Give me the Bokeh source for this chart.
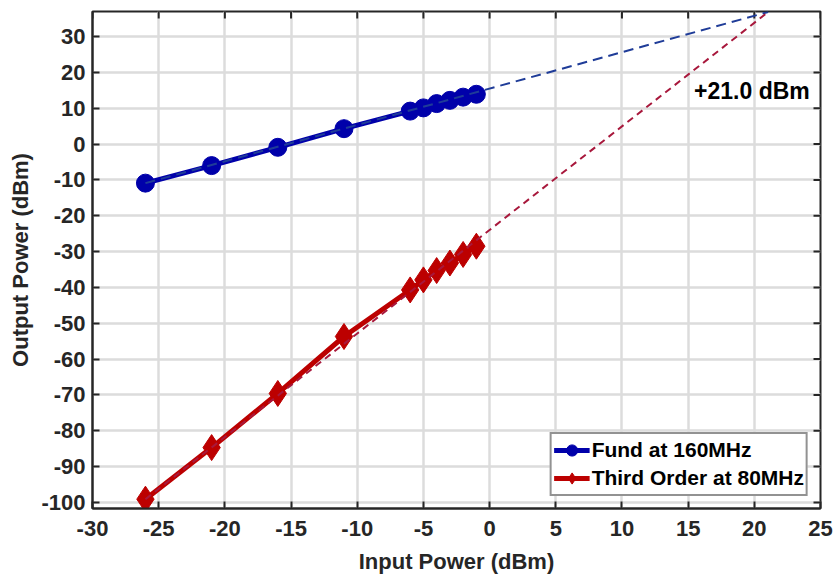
from bokeh.plotting import figure
from bokeh.models import Range1d, FixedTicker, Legend, LegendItem, ColumnDataSource
from bokeh.core.properties import value
from bokeh.embed import file_html
from bokeh.resources import INLINE
import numpy as np

# ---- data ----
input_power = [-26, -21, -16, -11, -6, -5, -4, -3, -2, -1]
fund_out = [-10.9, -6.0, -0.9, 4.3, 9.2, 10.1, 11.3, 12.2, 13.1, 13.9]
im3_out = [-99.1, -84.7, -69.6, -53.7, -40.7, -37.9, -35.3, -33.2, -30.8, -28.5]

# linear extrapolations (slope, offset at 0 dBm input)
fund_fit = (1.015, 15.49)
im3_fit = (2.89, -23.96)

x_ticks = list(range(-30, 26, 5))
y_ticks = list(range(-100, 31, 10))

fund_label = "Fund at 160MHz"
im3_label = "Third Order at 80MHz"

# intercept point
iip3 = (im3_fit[1] - fund_fit[1]) / (fund_fit[0] - im3_fit[0])
ext_x = np.array([input_power[0], iip3])
fund_ext = fund_fit[0] * ext_x + fund_fit[1]
im3_ext = im3_fit[0] * ext_x + im3_fit[1]

FONT = "Liberation Sans"
DARK = "#262626"
BLUE = "#0000AA"
RED = "#BC0000"
BLUE_D = "#1F3C98"
RED_D = "#A8183C"

x_range = Range1d(-30, 25)
y_range = Range1d(-101.7, 37)

p = figure(width=835, height=580, output_backend="svg", toolbar_location=None,
           x_range=x_range, y_range=y_range,
           min_border_left=92, min_border_right=15, min_border_top=11, min_border_bottom=72)
p.background_fill_color = "white"
p.border_fill_color = "white"
p.outline_line_color = DARK
p.outline_line_width = 2

for ax, ticks in ((p.xaxis[0], x_ticks), (p.yaxis[0], y_ticks)):
    ax.ticker = FixedTicker(ticks=ticks)
    ax.major_label_overrides = {t: str(t) for t in ticks}
    ax.axis_line_color = DARK
    ax.axis_line_width = 2
    ax.major_tick_in = 7
    ax.major_tick_out = 0
    ax.major_tick_line_color = DARK
    ax.major_tick_line_width = 2
    ax.minor_tick_line_color = None
    ax.major_label_text_font = FONT
    ax.major_label_text_font_style = "bold"
    ax.major_label_text_font_size = "22px"
    ax.major_label_text_color = DARK
    ax.axis_label_text_font = FONT
    ax.axis_label_text_font_style = "bold"
    ax.axis_label_text_font_size = "22px"
    ax.axis_label_text_color = DARK

p.xaxis[0].axis_label = "Input Power (dBm)"
p.yaxis[0].axis_label = "Output Power (dBm)"
p.xaxis[0].major_label_standoff = 12
p.xaxis[0].axis_label_standoff = 10
p.yaxis[0].major_label_standoff = 7
p.yaxis[0].axis_label_standoff = 5

p.xgrid.ticker = FixedTicker(ticks=x_ticks)
p.ygrid.ticker = FixedTicker(ticks=y_ticks)
for g in (p.xgrid[0], p.ygrid[0]):
    g.grid_line_color = "#DCDCDC"
    g.grid_line_width = 2.5

# inward ticks on the top and right edges of the box (half of each dash is clipped)
p.scatter(x=[x_range.end] * len(y_ticks), y=y_ticks, marker="dash", size=14,
          line_color=DARK, line_width=2)
p.scatter(x=x_ticks, y=[y_range.end] * len(x_ticks), marker="dash", size=14,
          angle=np.pi / 2, line_color=DARK, line_width=2)

src = ColumnDataSource(dict(x=input_power, f=fund_out, t=im3_out))

fl = p.line("x", "f", source=src, line_color=BLUE, line_width=5)
fs = p.scatter("x", "f", source=src, marker="circle", size=18, fill_color=BLUE, line_color=BLUE)
tl = p.line("x", "t", source=src, line_color=RED, line_width=5)
ts = p.scatter("x", "t", source=src, marker="diamond", size=26, fill_color=RED, line_color=RED)

p.line(ext_x, fund_ext, line_color=BLUE_D, line_width=2, line_dash="10 6")
p.line(ext_x, im3_ext, line_color=RED_D, line_width=2, line_dash="7 5")

p.text(x=[15.45], y=[14.7], text=[f"+{iip3:.1f} dBm"], text_font=value(FONT),
       text_font_style="bold", text_font_size="23px", text_color="black",
       text_align="left", text_baseline="middle")

legend = Legend(items=[LegendItem(label=fund_label, renderers=[fl, fs]),
                       LegendItem(label=im3_label, renderers=[tl, ts])],
                location="bottom_right")
legend.label_text_font = FONT
legend.label_text_font_style = "bold"
legend.label_text_font_size = "21px"
legend.label_text_color = "black"
legend.glyph_width = 36
legend.glyph_height = 28
legend.label_height = 28
legend.label_standoff = 2
legend.padding = 2
legend.spacing = 0
legend.margin = 12
legend.border_line_color = DARK
legend.border_line_width = 2
legend.background_fill_color = "white"
legend.background_fill_alpha = 1
p.add_layout(legend)

open("out.html", "w").write(file_html(p, INLINE))
